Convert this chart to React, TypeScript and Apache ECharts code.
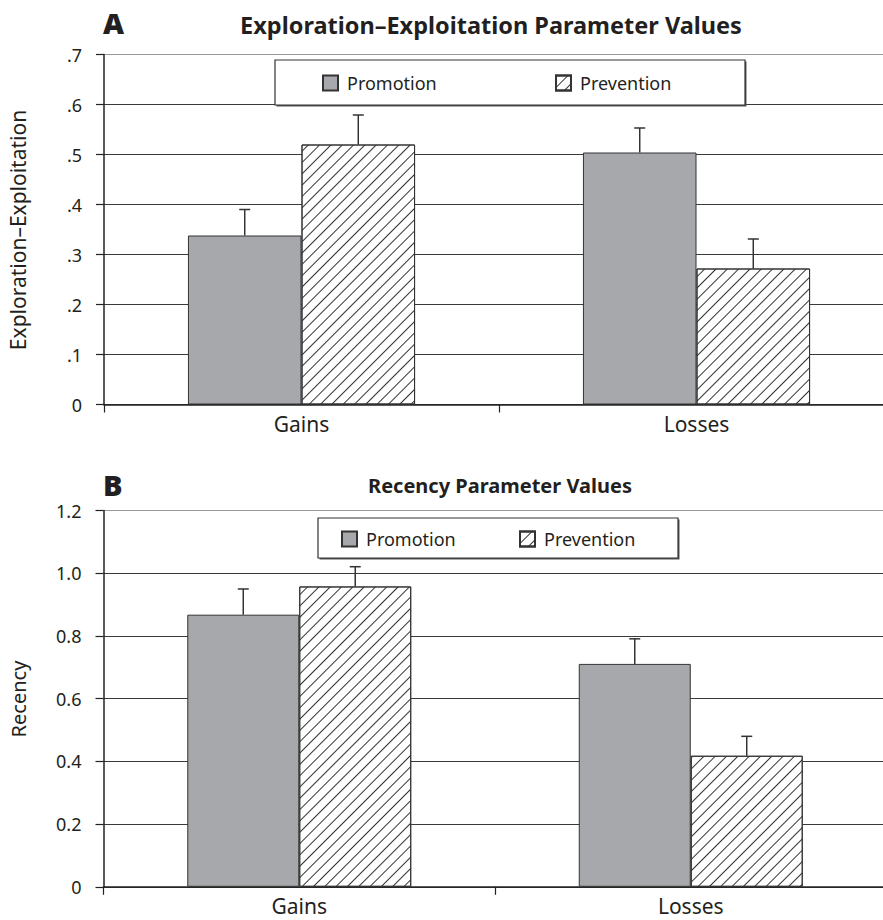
import React, { useEffect, useRef } from "react";
import * as echarts from "echarts";

const categories = ["Gains", "Losses"];
const seriesNames = ["Promotion", "Prevention"];

// Panel A: Exploration–Exploitation
const promotionA = [0.338, 0.504];
const promotionAErr = [0.052, 0.049];
const preventionA = [0.52, 0.272];
const preventionAErr = [0.059, 0.059];
const yTicksA = [0, 0.1, 0.2, 0.3, 0.4, 0.5, 0.6, 0.7];

// Panel B: Recency
const promotionB = [0.868, 0.711];
const promotionBErr = [0.082, 0.08];
const preventionB = [0.958, 0.418];
const preventionBErr = [0.063, 0.062];
const yTicksB = [0, 0.2, 0.4, 0.6, 0.8, 1.0, 1.2];

const FONT = "Noto Sans";
const INK = "#231f20";
const GAP_A = 0.425;
const GAP_B = 0.428;

const hatch = {
  symbol: "rect",
  symbolSize: 1,
  dashArrayX: [1, 0],
  dashArrayY: [1, 7],
  rotation: -Math.PI / 4,
  color: "#333",
};

function errData(vals: number[], errs: number[], g: number) {
  return vals.map((v, i) => [i, v + errs[i], v, g]);
}

function makeRender(gap: number) {
  return (params: any, api: any) => {
    const cat = api.value(0);
    const top = api.value(1);
    const mean = api.value(2);
    const g = api.value(3);
    const band = api.size([1, 0])[0];
    const bw = (band * (1 - gap)) / 2;
    const cx = api.coord([cat, 0])[0] + (g === 0 ? -bw / 2 : bw / 2);
    const y1 = api.coord([cat, mean])[1];
    const y2 = api.coord([cat, top])[1];
    const st = { stroke: "#333", lineWidth: 1.5 };
    return {
      type: "group",
      children: [
        { type: "line", shape: { x1: cx, y1: y1, x2: cx, y2: y2 }, style: st },
        { type: "line", shape: { x1: cx - 5.5, y1: y2, x2: cx + 5.5, y2: y2 }, style: st },
      ],
    };
  };
}

export default function App() {
  const ref = useRef<HTMLDivElement>(null);
  useEffect(() => {
    if (!ref.current) return;
    const chart = echarts.init(ref.current, null, { renderer: "svg" });
    const xAxisBase = (gi: number) => ({
      type: "category",
      gridIndex: gi,
      data: categories,
      axisLine: { lineStyle: { color: "#222", width: 1.5 } },
      axisTick: { show: true, length: 8, lineStyle: { color: "#222", width: 1.2 } },
      axisLabel: { fontFamily: FONT, fontSize: 21, color: INK, margin: 9 },
      splitLine: { show: false },
    });
    const yAxisBase = (gi: number, max: number, interval: number, fmt: (v: number) => string, n: number) => ({
      type: "value",
      gridIndex: gi,
      min: 0,
      max,
      interval,
      axisLine: { show: true, lineStyle: { color: "#222", width: 1.5 } },
      axisTick: { show: true, length: 8, lineStyle: { color: "#222", width: 1.2 } },
      axisLabel: { fontFamily: FONT, fontSize: 18, color: INK, margin: 22, formatter: fmt },
      splitLine: {
        show: true,
        lineStyle: { color: Array.from({ length: n }, (_, i) => (i === n - 1 ? "#9a9a9a" : "#3a3a3a")), width: 1.2 },
      },
    });
    const fmtA = (v: number) => {
      const t = yTicksA.find((x) => Math.abs(x - v) < 1e-6);
      if (t === undefined) return "";
      return t === 0 ? "0" : t.toFixed(1).replace(/^0/, "");
    };
    const fmtB = (v: number) => {
      const t = yTicksB.find((x) => Math.abs(x - v) < 1e-6);
      if (t === undefined) return "";
      return t === 0 ? "0" : t.toFixed(1);
    };
    const barStyle = (name: string) =>
      name === "Promotion"
        ? { color: "#a7a8ab", borderColor: "#333", borderWidth: 1 }
        : { color: "#ffffff", borderColor: "#333", borderWidth: 1, decal: hatch };
    const legendBase = (name: string, left: number, top: number) => ({
      data: [name],
      left,
      top,
      padding: 0,
      z: 20,
      icon: "rect",
      itemWidth: 15,
      itemHeight: 15,
      selectedMode: false,
      textStyle: { fontFamily: FONT, fontSize: 18, color: INK, padding: [0, 0, 0, 4] },
    });
    const option: any = {
      animation: false,
      backgroundColor: "#ffffff",
      grid: [
        { left: 104, top: 54.5, width: 790, height: 350 },
        { left: 103.5, top: 510.6, width: 783, height: 376.2 },
      ],
      xAxis: [xAxisBase(0), xAxisBase(1)],
      yAxis: [yAxisBase(0, 0.7, 0.1, fmtA, yTicksA.length), yAxisBase(1, 1.2, 0.2, fmtB, yTicksB.length)],
      legend: [
        legendBase("Promotion", 322, 74),
        legendBase("Prevention", 555, 74),
        legendBase("Promotion", 341, 530),
        legendBase("Prevention", 519, 530),
      ],
      graphic: [
        { type: "rect", z: 10, shape: { x: 276.5, y: 61.5, width: 470, height: 45 }, style: { fill: "#555", stroke: "none" } },
        { type: "rect", z: 11, shape: { x: 275, y: 60, width: 470, height: 45 }, style: { fill: "#fff", stroke: "#333", lineWidth: 1.2 } },
        { type: "rect", z: 10, shape: { x: 319.5, y: 519.5, width: 360, height: 40 }, style: { fill: "#555", stroke: "none" } },
        { type: "rect", z: 11, shape: { x: 318, y: 518, width: 360, height: 40 }, style: { fill: "#fff", stroke: "#333", lineWidth: 1.2 } },
        { type: "text", z: 12, x: 103, y: 22, style: { text: "A", fontFamily: FONT, fontSize: 29, fontWeight: 900, fill: INK, textVerticalAlign: "middle" } },
        { type: "text", z: 12, x: 491, y: 25, style: { text: "Exploration\u2013Exploitation Parameter Values", fontFamily: FONT, fontSize: 23.5, fontWeight: "bold", fill: INK, textAlign: "center", textVerticalAlign: "middle" } },
        { type: "text", z: 12, x: 103, y: 484, style: { text: "B", fontFamily: FONT, fontSize: 29, fontWeight: 900, fill: INK, textVerticalAlign: "middle" } },
        { type: "text", z: 12, x: 500, y: 485, style: { text: "Recency Parameter Values", fontFamily: FONT, fontSize: 20, fontWeight: "bold", fill: INK, textAlign: "center", textVerticalAlign: "middle" } },
        { type: "text", z: 12, x: 18, y: 230, rotation: Math.PI / 2, style: { text: "Exploration\u2013Exploitation", fontFamily: FONT, fontSize: 21, fill: INK, textAlign: "center", textVerticalAlign: "middle" } },
        { type: "text", z: 12, x: 18, y: 699, rotation: Math.PI / 2, style: { text: "Recency", fontFamily: FONT, fontSize: 20, fill: INK, textAlign: "center", textVerticalAlign: "middle" } },
      ],
      series: [
        { name: seriesNames[0], type: "bar", xAxisIndex: 0, yAxisIndex: 0, data: promotionA, barGap: "0%", barCategoryGap: GAP_A * 100 + "%", itemStyle: barStyle("Promotion") },
        { name: seriesNames[1], type: "bar", xAxisIndex: 0, yAxisIndex: 0, data: preventionA, barGap: "0%", barCategoryGap: GAP_A * 100 + "%", itemStyle: barStyle("Prevention") },
        { name: seriesNames[0], type: "bar", xAxisIndex: 1, yAxisIndex: 1, data: promotionB, barGap: "0%", barCategoryGap: GAP_B * 100 + "%", itemStyle: barStyle("Promotion") },
        { name: seriesNames[1], type: "bar", xAxisIndex: 1, yAxisIndex: 1, data: preventionB, barGap: "0%", barCategoryGap: GAP_B * 100 + "%", itemStyle: barStyle("Prevention") },
        { name: "errA", type: "custom", xAxisIndex: 0, yAxisIndex: 0, z: 5, renderItem: makeRender(GAP_A), encode: { x: 0, y: [1, 2] }, data: [...errData(promotionA, promotionAErr, 0), ...errData(preventionA, preventionAErr, 1)] },
        { name: "errB", type: "custom", xAxisIndex: 1, yAxisIndex: 1, z: 5, renderItem: makeRender(GAP_B), encode: { x: 0, y: [1, 2] }, data: [...errData(promotionB, promotionBErr, 0), ...errData(preventionB, preventionBErr, 1)] },
      ],
    };
    chart.setOption(option);
    return () => chart.dispose();
  }, []);
  return (
    <div style={{ position: "absolute", left: 0, top: 0, width: 883, height: 920, overflow: "hidden" }}>
      <div ref={ref} style={{ width: 900, height: 920 }} />
    </div>
  );
}
